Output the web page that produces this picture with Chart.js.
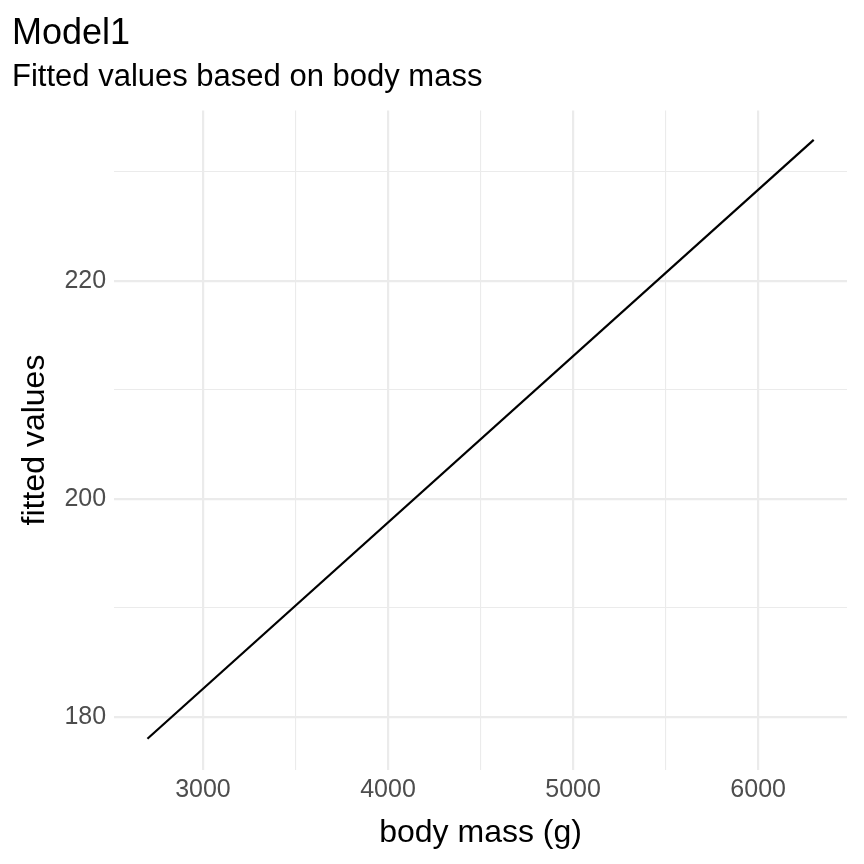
<!DOCTYPE html>
<html>
<head>
<meta charset="utf-8">
<script src="https://cdn.jsdelivr.net/npm/chart.js@4"></script>
<style>
  html, body { margin: 0; padding: 0; background: #fff; }
  #wrap { width: 864px; height: 864px; }
</style>
</head>
<body>
<div id="wrap"><canvas id="c"></canvas></div>
<script>
// Fitted line endpoints (body mass in g, fitted values)
const bodyMass = [2700, 6300];
const fittedValues = [177.98, 232.95];
const xTicks = [3000, 3500, 4000, 4500, 5000, 5500, 6000];
const yTicks = [180, 190, 200, 210, 220, 230];

const font = 'Liberation Sans, Arial, sans-serif';
const isMajorX = v => v % 1000 === 0;
const isMajorY = v => v % 20 === 0;

new Chart(document.getElementById('c'), {
    type: 'scatter',
    data: {
        datasets: [{
            data: bodyMass.map((m, i) => ({ x: m, y: fittedValues[i] })),
            showLine: true,
            borderColor: '#000',
            borderWidth: 2.2,
            pointRadius: 0
        }]
    },
    options: {
        responsive: true,
        maintainAspectRatio: false,
        animation: false,
        layout: { padding: { left: 12, right: 17, top: 0, bottom: 12 } },
        plugins: {
            legend: { display: false },
            tooltip: { enabled: false },
            title: {
                display: true, text: 'Model1', align: 'start', color: '#000',
                font: { family: font, size: 36, weight: 'normal' },
                padding: { top: 12, bottom: 4 }
            },
            subtitle: {
                display: true, text: 'Fitted values based on body mass', align: 'start', color: '#000',
                font: { family: font, size: 31 },
                padding: { bottom: 14 }
            }
        },
        scales: {
            x: {
                type: 'linear', min: 2520, max: 6480,
                afterBuildTicks: ax => { ax.ticks = xTicks.map(v => ({ value: v })); },
                border: { display: false },
                grid: {
                    color: '#ebebeb',
                    lineWidth: c => isMajorX(c.tick.value) ? 2.2 : 1.1,
                    drawTicks: false
                },
                ticks: {
                    color: '#4d4d4d', padding: 6, maxRotation: 0, autoSkip: false,
                    font: { family: font, size: 25 },
                    callback: v => isMajorX(v) ? v : ''
                },
                title: {
                    display: true, text: 'body mass (g)', color: '#000',
                    font: { family: font, size: 32 }, padding: { top: 2, bottom: 0 }
                }
            },
            y: {
                type: 'linear', min: 175.15, max: 235.65,
                afterBuildTicks: ax => { ax.ticks = yTicks.map(v => ({ value: v })); },
                border: { display: false },
                grid: {
                    color: '#ebebeb',
                    lineWidth: c => isMajorY(c.tick.value) ? 2.2 : 1.1,
                    drawTicks: false
                },
                ticks: {
                    color: '#4d4d4d', padding: 8, autoSkip: false,
                    font: { family: font, size: 25 },
                    callback: v => isMajorY(v) ? v : ''
                },
                title: {
                    display: true, text: 'fitted values', color: '#000',
                    font: { family: font, size: 32 }, padding: { bottom: 2 }
                }
            }
        }
    }
});
</script>
</body>
</html>
